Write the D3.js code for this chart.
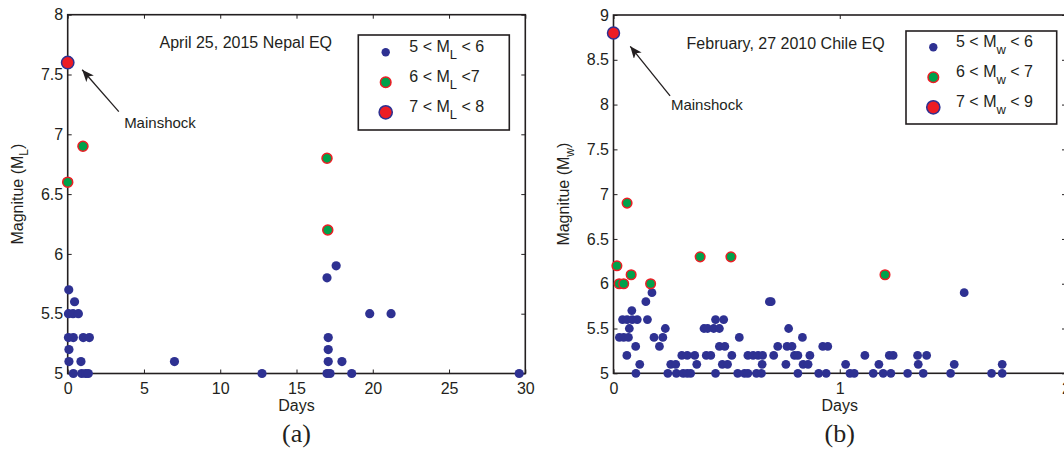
<!DOCTYPE html>
<html>
<head>
<meta charset="utf-8">
<script src="https://cdn.jsdelivr.net/npm/d3@7"></script>
<style>
  body { margin: 0; background: #fff; }
  text { font-family: "Liberation Sans", Arial, sans-serif; fill: #231f20; white-space: pre; }
</style>
</head>
<body>
<svg id="chart"></svg>
<script>
const W = 1064, H = 449;

// Nepal 2015: [days, magnitude]
const nepalSmall = [
  [0.07, 5.7], [0.45, 5.6], [0.05, 5.5], [0.35, 5.5], [0.7, 5.5],
  [0.05, 5.3], [0.37, 5.3], [1.02, 5.3], [1.42, 5.3], [0.08, 5.2],
  [0.08, 5.1], [0.87, 5.1], [7.0, 5.1], [0.37, 5.0], [0.92, 5.0],
  [1.18, 5.0], [1.35, 5.0], [12.74, 5.0], [17.0, 5.8], [17.6, 5.9],
  [17.08, 5.3], [17.08, 5.2], [17.08, 5.1], [17.98, 5.1], [17.0, 5.0],
  [17.2, 5.0], [18.62, 5.0], [19.8, 5.5], [21.2, 5.5], [29.6, 5.0]
];
const nepalMid = [[0, 6.6], [1.0, 6.9], [17.0, 6.8], [17.05, 6.2]];
const nepalBig = [[0, 7.6]];

// Chile 2010: [days, magnitude]
const chileSmall = [
  [0.17, 5.9], [1.55, 5.9],
  [0.143, 5.8], [0.689, 5.8], [0.697, 5.8],
  [0.081, 5.7],
  [0.04, 5.6], [0.06, 5.6], [0.083, 5.6], [0.105, 5.6], [0.15, 5.6], [0.451, 5.6], [0.487, 5.6],
  [0.07, 5.5], [0.229, 5.5], [0.40, 5.5], [0.416, 5.5], [0.443, 5.5], [0.468, 5.5], [0.774, 5.5],
  [0.026, 5.4], [0.045, 5.4], [0.066, 5.4], [0.179, 5.4], [0.218, 5.4], [0.556, 5.4], [0.835, 5.4],
  [0.098, 5.3], [0.203, 5.3], [0.468, 5.3], [0.492, 5.3], [0.726, 5.3], [0.767, 5.3], [0.789, 5.3],
  [0.925, 5.3], [0.947, 5.3],
  [0.059, 5.2], [0.302, 5.2], [0.326, 5.2], [0.359, 5.2], [0.41, 5.2], [0.43, 5.2], [0.523, 5.2],
  [0.594, 5.2], [0.617, 5.2], [0.639, 5.2], [0.659, 5.2], [0.708, 5.2], [0.80, 5.2], [0.815, 5.2],
  [0.868, 5.2], [1.111, 5.2], [1.219, 5.2], [1.236, 5.2], [1.344, 5.2], [1.384, 5.2],
  [0.116, 5.1], [0.253, 5.1], [0.275, 5.1], [0.368, 5.1], [0.481, 5.1], [0.504, 5.1], [0.657, 5.1],
  [0.762, 5.1], [0.838, 5.1], [0.86, 5.1], [1.026, 5.1], [1.173, 5.1], [1.347, 5.1], [1.506, 5.1],
  [1.718, 5.1],
  [0.099, 5.0], [0.24, 5.0], [0.278, 5.0], [0.308, 5.0], [0.326, 5.0], [0.341, 5.0], [0.451, 5.0],
  [0.549, 5.0], [0.579, 5.0], [0.594, 5.0], [0.632, 5.0], [0.654, 5.0], [0.815, 5.0], [0.907, 5.0],
  [0.94, 5.0], [1.045, 5.0], [1.064, 5.0], [1.148, 5.0], [1.192, 5.0], [1.226, 5.0], [1.30, 5.0],
  [1.369, 5.0], [1.49, 5.0], [1.671, 5.0], [1.718, 5.0]
];
const chileMid = [
  [0.015, 6.2], [0.025, 6.0], [0.045, 6.0], [0.06, 6.9], [0.078, 6.1],
  [0.164, 6.0], [0.383, 6.3], [0.519, 6.3], [1.2, 6.1]
];
const chileBig = [[0, 8.8]];

const nepalXTicks = [0, 5, 10, 15, 20, 25, 30];
const nepalYTicks = [5, 5.5, 6, 6.5, 7, 7.5, 8];
const chileXTicks = [0, 1, 2];
const chileYTicks = [5, 5.5, 6, 6.5, 7, 7.5, 8, 8.5, 9];

const nepalLegend = [["5 < M", "L", " < 6"], ["6 < M", "L", " <7"], ["7 < M", "L", " < 8"]];
const chileLegend = [["5 < M", "w", " < 6"], ["6 < M", "w", " < 7"], ["7 < M", "w", " < 9"]];

const BLUE = "#2e3192", GREEN = "#00a14b", RED = "#ed1c24";

const svg = d3.select("#chart").attr("width", W).attr("height", H);
svg.append("rect").attr("width", W).attr("height", H).attr("fill", "#fff");

svg.append("defs").append("marker")
    .attr("id", "head")
    .attr("markerUnits", "userSpaceOnUse")
    .attr("markerWidth", 14).attr("markerHeight", 12)
    .attr("refX", 12).attr("refY", 5)
    .attr("orient", "auto")
  .append("path")
    .attr("d", "M0,0 L12,5 L0,10 L3,5 Z")
    .attr("fill", "#231f20");

function drawPanel(p) {
  const x = d3.scaleLinear().domain(p.xDomain).range([p.left, p.right]);
  const y = d3.scaleLinear().domain(p.yDomain).range([p.bottom, p.top]);
  const g = svg.append("g");
  const fmt = d => String(d);

  const bottom = g.append("g").attr("transform", `translate(0,${p.bottom})`)
    .call(d3.axisBottom(x).tickValues(p.xTicks).tickFormat(fmt).tickSize(-4).tickSizeOuter(0).tickPadding(9));
  const leftAx = g.append("g").attr("transform", `translate(${p.left},0)`)
    .call(d3.axisLeft(y).tickValues(p.yTicks).tickFormat(fmt).tickSize(-4).tickSizeOuter(0).tickPadding(4.5));
  g.append("g").attr("transform", `translate(0,${p.top})`)
    .call(d3.axisTop(x).tickValues(p.xTicks).tickFormat("").tickSize(-4).tickSizeOuter(0));
  g.append("g").attr("transform", `translate(${p.right},0)`)
    .call(d3.axisRight(y).tickValues(p.yTicks).tickFormat("").tickSize(-4).tickSizeOuter(0));
  g.selectAll(".domain").remove();
  g.selectAll(".tick line").attr("stroke", "#231f20").attr("stroke-width", 1);
  g.selectAll(".tick text").attr("font-size", 16).attr("fill", "#231f20")
    .style("font-family", '"Liberation Sans", Arial, sans-serif');

  g.append("rect")
    .attr("x", p.left).attr("y", p.top)
    .attr("width", p.right - p.left).attr("height", p.bottom - p.top)
    .attr("fill", "none").attr("stroke", "#231f20").attr("stroke-width", 1.6);

  // markers
  g.selectAll(".s").data(p.small).join("circle")
    .attr("cx", d => x(d[0])).attr("cy", d => y(d[1])).attr("r", p.rSmall)
    .attr("fill", BLUE);
  g.selectAll(".m").data(p.mid).join("circle")
    .attr("cx", d => x(d[0])).attr("cy", d => y(d[1])).attr("r", p.rMid)
    .attr("fill", GREEN).attr("stroke", RED).attr("stroke-width", 1.5);
  g.selectAll(".b").data(p.big).join("circle")
    .attr("cx", d => x(d[0])).attr("cy", d => y(d[1])).attr("r", p.rBig)
    .attr("fill", RED).attr("stroke", BLUE).attr("stroke-width", 1.5);

  // title and annotation
  g.append("text").attr("x", x(p.title[0])).attr("y", y(p.title[1]))
    .attr("font-size", 16).text(p.title[2]);
  g.append("line")
    .attr("x1", x(p.arrow[0][0])).attr("y1", y(p.arrow[0][1]))
    .attr("x2", x(p.arrow[1][0])).attr("y2", y(p.arrow[1][1]))
    .attr("stroke", "#231f20").attr("stroke-width", 1.3)
    .attr("marker-end", "url(#head)");
  g.append("text").attr("x", x(p.note[0])).attr("y", y(p.note[1]))
    .attr("font-size", 15).text("Mainshock");

  // axis labels
  const cx = (p.left + p.right) / 2;
  const xc = p.xCenter !== undefined ? x(p.xCenter) : cx;
  g.append("text").attr("x", xc).attr("y", 411).attr("text-anchor", "middle")
    .attr("font-size", 16).text("Days");
  g.append("text").attr("x", xc).attr("y", 442).attr("text-anchor", "middle")
    .attr("font-size", 26).style("font-family", '"Liberation Serif", "Times New Roman", serif')
    .text(p.panel);
  const yl = g.append("text")
    .attr("transform", `translate(${p.left - 44.5},${(p.top + p.bottom) / 2}) rotate(-90)`)
    .attr("text-anchor", "middle").attr("font-size", 16);
  yl.append("tspan").text("Magnitue (M");
  yl.append("tspan").attr("font-size", 12).attr("dy", 5).text(p.sub);
  yl.append("tspan").attr("dy", -5).text(")");

  // legend
  const L = p.legend;
  g.append("rect").attr("x", L.x).attr("y", L.y).attr("width", L.w).attr("height", L.h)
    .attr("fill", "#fff").attr("stroke", "#231f20").attr("stroke-width", 1.6);
  const styles = [
    { r: 4.2, fill: BLUE, stroke: "none" },
    { r: 5.3, fill: GREEN, stroke: RED },
    { r: 6.6, fill: RED, stroke: BLUE }
  ];
  p.legendText.forEach((t, i) => {
    const ry = L.y + L.row0 + i * 30;
    g.append("circle").attr("cx", L.x + L.mx).attr("cy", ry).attr("r", styles[i].r)
      .attr("fill", styles[i].fill).attr("stroke", styles[i].stroke).attr("stroke-width", 1.5);
    const tx = g.append("text").attr("x", L.x + L.tx).attr("y", ry).attr("font-size", 16);
    tx.append("tspan").text(t[0]);
    tx.append("tspan").attr("font-size", 13).attr("dy", 7).text(t[1]);
    tx.append("tspan").attr("dy", -7).text(t[2]);
  });
}

drawPanel({
  left: 67.7, right: 525.3, top: 14.7, bottom: 373.5,
  xDomain: [0, 30], yDomain: [5, 8],
  xTicks: nepalXTicks, yTicks: nepalYTicks,
  small: nepalSmall, mid: nepalMid, big: nepalBig,
  rSmall: 4.6, rMid: 5.0, rBig: 6.2,
  title: [6.02, 7.72, "April 25, 2015 Nepal EQ"],
  arrow: [[3.35, 7.19], [0.95, 7.54]],
  note: [3.70, 7.055],
  panel: "(a)", sub: "L",
  legend: { x: 358.3, y: 35, w: 151, h: 95, mx: 27.4, tx: 51, row0: 17.3 },
  legendText: nepalLegend
});

drawPanel({
  left: 613.5, right: 1066, top: 15, bottom: 373.3,
  xDomain: [0, 2], yDomain: [5, 9],
  xTicks: chileXTicks, yTicks: chileYTicks,
  small: chileSmall, mid: chileMid, big: chileBig,
  rSmall: 4.4, rMid: 4.8, rBig: 6.0,
  title: [0.323, 8.623, "February, 27 2010 Chile EQ"],
  arrow: [[0.25, 8.097], [0.074, 8.65]],
  note: [0.254, 7.937],
  panel: "(b)", sub: "w",
  legend: { x: 906, y: 31, w: 150.7, h: 93, mx: 27.3, tx: 50, row0: 16.3 },
  legendText: chileLegend
});
</script>
</body>
</html>
